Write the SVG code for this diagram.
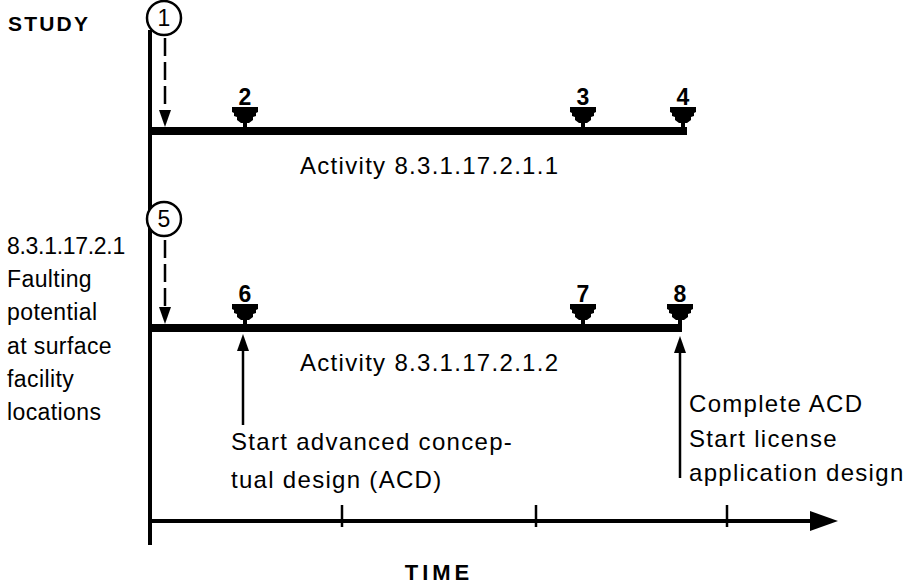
<svg xmlns="http://www.w3.org/2000/svg" width="911" height="588" viewBox="0 0 911 588">
<style>
.t{font-family:"Liberation Sans",Arial,Helvetica,sans-serif;font-size:24px;fill:#000;letter-spacing:1.3px}
.l{font-family:"Liberation Sans",Arial,Helvetica,sans-serif;font-size:23px;fill:#000;letter-spacing:0.4px}
.b{font-weight:bold}
.num{font-family:"Liberation Sans",Arial,sans-serif;font-size:23px;font-weight:bold;fill:#000;text-anchor:middle}
.circ{fill:#fff;stroke:#000;stroke-width:2.5}
.axis{stroke:#000;stroke-width:4;fill:none}
.bar{fill:#000}
.dash{stroke:#000;stroke-width:2.5;stroke-dasharray:18 6;fill:none}
.ln{stroke:#000;stroke-width:2.5;fill:none}
</style>
<defs>
<path id="ms" d="M-13,0 L13,0 L13,5 L11,6 L11,9 L8,10 L8,13 L4,16 L2,16 L2,21 L-2,21 L-2,16 L-4,16 L-8,13 L-8,10 L-11,9 L-11,6 L-13,5 Z" fill="#000"/>
</defs>

<g id="connectors">
<line class="axis" x1="150" y1="30" x2="150" y2="545"/>
<line class="axis" x1="150" y1="521" x2="815" y2="521"/>
<path d="M810,511 L838,521 L810,531 Z" fill="#000"/>
<line class="ln" x1="342" y1="505" x2="342" y2="527"/>
<line class="ln" x1="536" y1="505" x2="536" y2="527"/>
<line class="ln" x1="727" y1="505" x2="727" y2="527"/>
<line class="dash" x1="165" y1="38" x2="165" y2="112"/>
<path d="M159,110 L171,110 L165,127 Z" fill="#000"/>
<line class="dash" x1="165" y1="240" x2="165" y2="308"/>
<path d="M159,307 L171,307 L165,324 Z" fill="#000"/>
<line class="ln" x1="243" y1="350" x2="243" y2="425"/>
<path d="M237,351 L249,351 L243,334 Z" fill="#000"/>
<line class="ln" x1="680" y1="352" x2="680" y2="478"/>
<path d="M674,353 L686,353 L680,336 Z" fill="#000"/>
</g>

<g id="label-study"><text class="t b" x="8" y="31" style="font-size:21px;letter-spacing:2.2px">STUDY</text></g>
<g id="label-time"><text class="t b" x="439" y="580" text-anchor="middle" style="font-size:22px;letter-spacing:4px">TIME</text></g>

<g id="node-1">
<circle class="circ" cx="164" cy="18" r="17"/>
<text class="num" x="164" y="26" style="font-weight:normal">1</text>
</g>
<g id="activity-1">
<rect class="bar" x="150" y="127" width="537" height="8"/>
<text class="t" x="300" y="174">Activity 8.3.1.17.2.1.1</text>
</g>
<g id="node-2"><use href="#ms" x="245" y="107"/><text class="num" x="245" y="105">2</text></g>
<g id="node-3"><use href="#ms" x="583" y="107"/><text class="num" x="583" y="105">3</text></g>
<g id="node-4"><use href="#ms" x="683" y="107"/><text class="num" x="683" y="105">4</text></g>

<g id="node-5">
<circle class="circ" cx="164" cy="219" r="17"/>
<text class="num" x="164" y="227" style="font-weight:normal">5</text>
</g>
<g id="activity-2">
<rect class="bar" x="150" y="324" width="532" height="8"/>
<text class="t" x="300" y="371">Activity 8.3.1.17.2.1.2</text>
</g>
<g id="node-6"><use href="#ms" x="245" y="304"/><text class="num" x="245" y="302">6</text></g>
<g id="node-7"><use href="#ms" x="583" y="304"/><text class="num" x="583" y="302">7</text></g>
<g id="node-8"><use href="#ms" x="680" y="304"/><text class="num" x="680" y="302">8</text></g>

<g id="label-left">
<text class="l" x="7" y="254" style="letter-spacing:-0.3px">8.3.1.17.2.1</text>
<text class="l" x="7" y="287">Faulting</text>
<text class="l" x="7" y="320">potential</text>
<text class="l" x="7" y="354">at surface</text>
<text class="l" x="7" y="387">facility</text>
<text class="l" x="7" y="420">locations</text>
</g>
<g id="label-acd">
<text class="t" x="231" y="450">Start advanced concep-</text>
<text class="t" x="231" y="488">tual design (ACD)</text>
</g>
<g id="label-complete">
<text class="t" x="689" y="412">Complete ACD</text>
<text class="t" x="689" y="447">Start license</text>
<text class="t" x="689" y="481">application design</text>
</g>
</svg>
